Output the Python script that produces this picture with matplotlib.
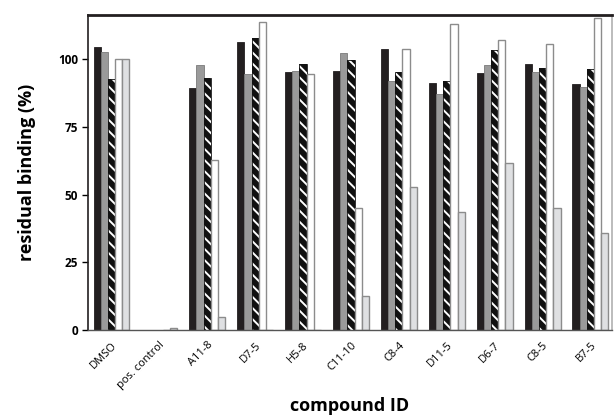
import numpy as np
import matplotlib
matplotlib.use("Agg")
import matplotlib.pyplot as plt

plt.rcParams['font.family'] = ['Open Sans', 'DejaVu Sans']
plt.rcParams['hatch.linewidth'] = 1.4

compounds = ["DMSO", "pos. control", "A11-8", "D7-5", "H5-8", "C11-10",
             "C8-4", "D11-5", "D6-7", "C8-5", "B7-5"]

# five measurement series per compound (residual binding, %)
s_black = [104.4, 0.0, 89.4, 106.3, 95.2, 95.8, 103.8, 91.2, 94.8, 98.2, 90.7]
s_gray = [102.6, 0.0, 98.0, 94.4, 95.5, 102.2, 92.1, 87.2, 97.7, 95.2, 89.7]
s_hatch = [92.8, 0.0, 93.1, 107.8, 98.3, 99.8, 95.2, 91.9, 103.5, 96.8, 96.5]
s_white = [100.0, 0.0, 62.9, 113.6, 94.6, 45.1, 103.6, 112.8, 107.1, 105.7, 115.3]
s_light = [100.0, 0.7, 4.8, 0.0, 0.0, 12.5, 52.8, 43.6, 61.8, 45.1, 35.7]

fig = plt.figure(figsize=(6.15, 4.16), dpi=100)
ax = fig.add_axes([88/615, 86/416, (612-88)/615, (330-15)/416])

x = np.arange(len(compounds))
w = 0.15

ax.bar(x - 2*w, s_black, w, color="#231f20", edgecolor="#231f20", linewidth=0.6)
ax.bar(x - w, s_gray, w, color="#9a9a9a", edgecolor="#7a7a7a", linewidth=0.6)
ax.bar(x, s_hatch, w, color="#111111", edgecolor="white", hatch="\\\\\\", linewidth=0)
ax.bar(x, s_hatch, w, fill=False, edgecolor="#111111", linewidth=0.6)
ax.bar(x + w, s_white, w, color="white", edgecolor="#8c8c8c", linewidth=1.0)
ax.bar(x + 2*w, s_light, w, color="#dfe0e2", edgecolor="#8c8c8c", linewidth=1.0)

ax.set_xlim(-0.49, 10.45)
ax.set_ylim(0, 116.3)
ax.set_yticks([0, 25, 50, 75, 100])
ax.tick_params(axis='y', labelsize=8.5, length=4, width=1, direction='out', pad=3)
for lab in ax.get_yticklabels():
    lab.set_fontweight('bold')

ax.set_xticks(x)
ax.set_xticklabels(compounds, rotation=45, ha='right', rotation_mode='anchor', fontsize=8)
ax.tick_params(axis='x', length=0, pad=7)

for side in ['left', 'top']:
    ax.spines[side].set_color('#231f20')
ax.spines['left'].set_linewidth(1.2)
ax.spines['top'].set_linewidth(2.0)
ax.spines['bottom'].set_color('#555555')
ax.spines['bottom'].set_linewidth(1.0)
ax.spines['right'].set_color('#b0b0b0')
ax.spines['right'].set_linewidth(1.2)

ax.set_ylabel("residual binding (%)", fontsize=13, fontweight='bold', labelpad=16)
fig.text(350/615, 1 - 406/416, "compound ID", fontsize=13, fontweight='bold',
         ha='center', va='center')

fig.savefig("out.png", dpi=100)
